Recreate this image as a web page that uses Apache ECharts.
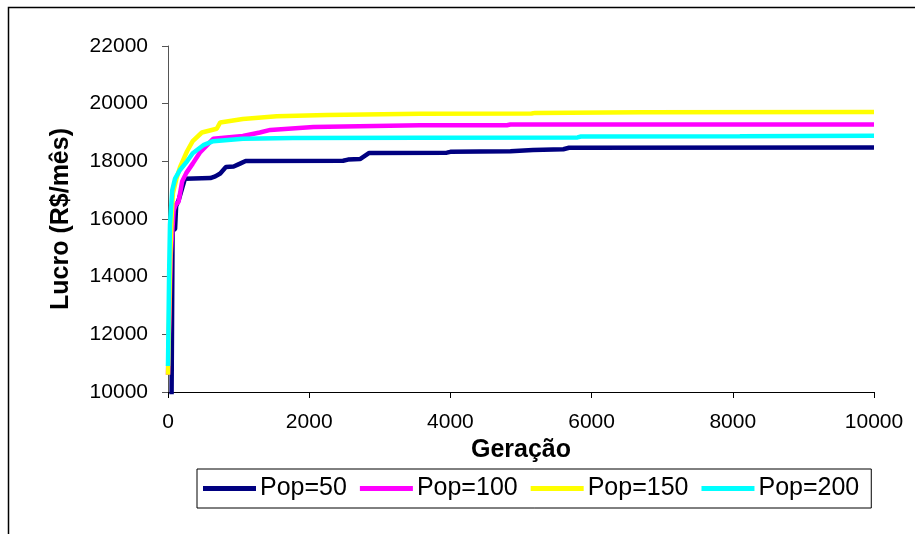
<!DOCTYPE html>
<html>
<head>
<meta charset="utf-8">
<script src="https://cdn.jsdelivr.net/npm/echarts@6/dist/echarts.min.js"></script>
<style>
  html, body { margin: 0; padding: 0; background: #fff; }
  #chart { width: 915px; height: 534px; }
</style>
</head>
<body>
<div id="chart"></div>
<script>
// Lucro (R$/mês) por geração, para quatro tamanhos de população
const seriesNames = ['Pop=50', 'Pop=100', 'Pop=150', 'Pop=200'];
const seriesColors = ['#000080', '#FF00FF', '#FFFF00', '#00FFFF'];

const pop50 = [
  [50, 9600], [65, 15600], [100, 15650], [115, 16450], [150, 16650], [240, 17400],
  [600, 17420], [670, 17480], [740, 17580], [820, 17800], [930, 17820], [1020, 17920],
  [1100, 18010], [2480, 18020], [2550, 18060], [2720, 18080], [2850, 18290], [3950, 18300],
  [4000, 18330], [4850, 18350], [5170, 18390], [5600, 18420], [5680, 18470], [10000, 18480]
];
const pop100 = [
  [0, 10600], [40, 14800], [80, 16300], [110, 16500], [150, 16600], [200, 17300],
  [260, 17600], [350, 17920], [450, 18300], [640, 18780], [1060, 18880], [1300, 19000],
  [1450, 19090], [2060, 19190], [3570, 19250], [4800, 19250], [4850, 19275], [10000, 19280]
];
const pop150 = [
  [0, 10600], [30, 14500], [50, 16000], [70, 16900], [120, 17400], [170, 17800],
  [270, 18350], [350, 18700], [480, 19000], [690, 19130], [740, 19350], [1060, 19470],
  [1540, 19560], [2250, 19610], [3570, 19650], [5150, 19660], [5200, 19680], [6700, 19700],
  [10000, 19710]
];
const pop200 = [
  [0, 10900], [15, 14000], [28, 15800], [60, 17000], [100, 17400], [170, 17700],
  [270, 18000], [350, 18280], [500, 18560], [640, 18700], [1060, 18780], [1770, 18810],
  [3570, 18820], [5800, 18830], [5850, 18860], [8100, 18870], [10000, 18890]
];
const seriesData = [pop50, pop100, pop150, pop200];

const xTicks = { min: 0, max: 10000, interval: 2000 };
const yTicks = { min: 10000, max: 22000, interval: 2000 };

const FONT = 'Arial, "Liberation Sans", sans-serif';
const plain = v => String(v);

const chart = echarts.init(document.getElementById('chart'), null, { renderer: 'canvas' });

chart.setOption({
  backgroundColor: '#fff',
  animation: false,
  graphic: [{
    type: 'rect',
    shape: { x: 8.5, y: 7.5, width: 1000, height: 1000 },
    style: { fill: 'none', stroke: '#000', lineWidth: 1.5 },
    silent: true
  }],
  grid: { left: 168, right: 41, top: 46, bottom: 142, containLabel: false },
  legend: {
    left: 197,
    top: 469,
    data: seriesNames,
    icon: 'rect',
    itemWidth: 53,
    itemHeight: 5,
    itemGap: 13,
    padding: [7, 12, 7, 6],
    borderColor: '#000',
    borderWidth: 1,
    textStyle: { fontFamily: FONT, fontSize: 25, color: '#000', padding: [0, 0, 0, -1] }
  },
  xAxis: {
    type: 'value',
    min: xTicks.min,
    max: xTicks.max,
    interval: xTicks.interval,
    name: 'Geração',
    nameLocation: 'middle',
    nameGap: 44,
    nameTextStyle: { fontFamily: FONT, fontSize: 25, fontWeight: 'bold', color: '#000' },
    axisLine: { show: true, onZero: false, lineStyle: { color: '#000', width: 1 } },
    axisTick: { show: true, inside: false, length: 6, lineStyle: { color: '#000' } },
    axisLabel: { fontFamily: FONT, fontSize: 21, color: '#000', margin: 20, formatter: plain },
    splitLine: { show: false }
  },
  yAxis: {
    type: 'value',
    min: yTicks.min,
    max: yTicks.max,
    interval: yTicks.interval,
    name: 'Lucro (R$/mês)',
    nameLocation: 'middle',
    nameGap: 94,
    nameTextStyle: { fontFamily: FONT, fontSize: 25, fontWeight: 'bold', color: '#000' },
    axisLine: { show: true, lineStyle: { color: '#555', width: 1 } },
    axisTick: { show: true, inside: false, length: 6, lineStyle: { color: '#555' } },
    axisLabel: { fontFamily: FONT, fontSize: 21, color: '#000', margin: 20, formatter: plain },
    splitLine: { show: false }
  },
  series: seriesNames.map((name, i) => ({
    name: name,
    type: 'line',
    data: seriesData[i],
    showSymbol: false,
    symbol: 'none',
    smooth: false,
    color: seriesColors[i],
    lineStyle: { color: seriesColors[i], width: 4.5 },
    clip: true,
    z: 2 + i
  }))
});
</script>
</body>
</html>
